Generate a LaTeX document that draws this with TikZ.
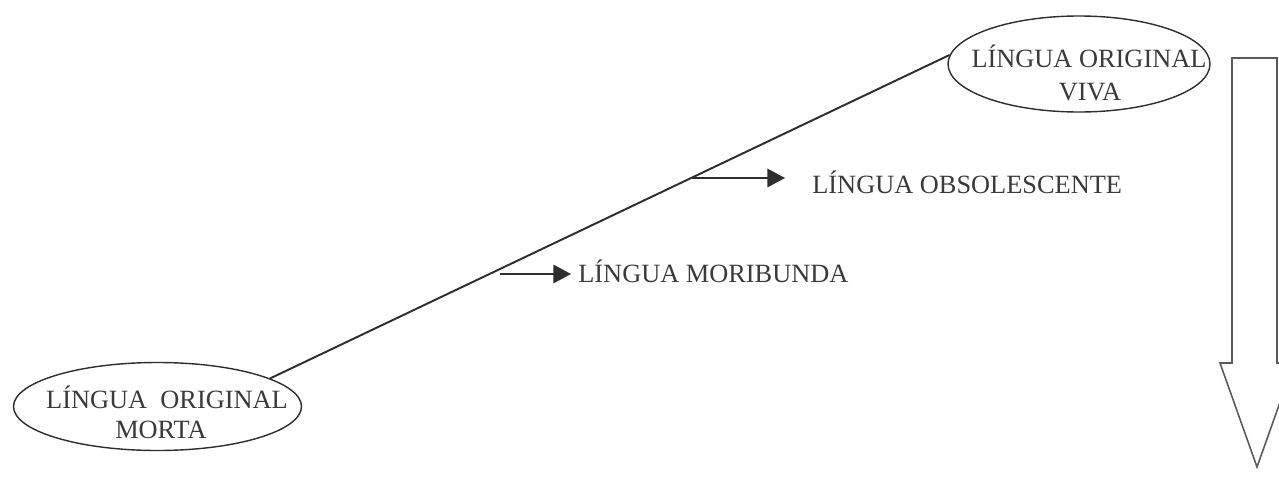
\documentclass[tikz,border=0pt]{standalone}
\usepackage{fontspec}
\setmainfont{Liberation Serif}
\usetikzlibrary{arrows.meta,shapes.geometric}
\definecolor{ink}{HTML}{2E2E2E}
\definecolor{txt}{HTML}{3A3A3A}
\definecolor{bigline}{HTML}{5A5A5A}
\begin{document}
\begin{tikzpicture}[x=0.02cm,y=-0.02cm,
  ell/.style={draw=ink, line width=0.8pt, ellipse, inner sep=0pt},
  lbl/.style={font=\fontsize{15}{18}\selectfont, text=txt, inner sep=0pt, anchor=base},
  lblw/.style={lbl, anchor=base west},
  mainline/.style={draw=ink, line width=1.1pt},
  pointer/.style={draw=ink, line width=0.9pt, -{Triangle[length=10pt,width=10.5pt]}},
  bigarrow/.style={draw=bigline, line width=0.9pt, fill=white}
]
\useasboundingbox (0,0) rectangle (1279,494);
\clip (0,0) rectangle (1279,494);
\fill[white] (0,0) rectangle (1279,494);

% ellipses
\node[ell, minimum width=262*0.02cm, minimum height=96*0.02cm] (top) at (1079,64) {};
\node[ell, minimum width=288*0.02cm, minimum height=88*0.02cm] (bot) at (157.5,406.5) {};

% ellipse texts
\node[lbl] (topA) at (1089,67) {LÍNGUA ORIGINAL};
\node[lbl] (topB) at (1090,100) {VIVA};
\node[lbl] (botA) at (167,408) {LÍNGUA\ \ ORIGINAL};
\node[lbl] (botB) at (161,438) {MORTA};

% main slanted line
\draw[mainline] (bot.14.5) -- (top.176.7);

% pointers
\node[lblw] (obs) at (812,193) {LÍNGUA OBSOLESCENTE};
\node[lblw] (mor) at (578,282) {LÍNGUA MORIBUNDA};
\coordinate (s1) at (692,178);
\coordinate (e1) at (785,178);
\coordinate (s2) at (500,274);
\coordinate (e2) at (571,274);
\draw[pointer] (s1) -- (e1);
\draw[pointer] (s2) -- (e2);

% big downward arrow
\draw[bigarrow] (1232,58) -- (1277,58) -- (1277,363) -- (1294,363) -- (1257,467)
  -- (1220,363) -- (1232,363) -- cycle;
\end{tikzpicture}
\end{document}
